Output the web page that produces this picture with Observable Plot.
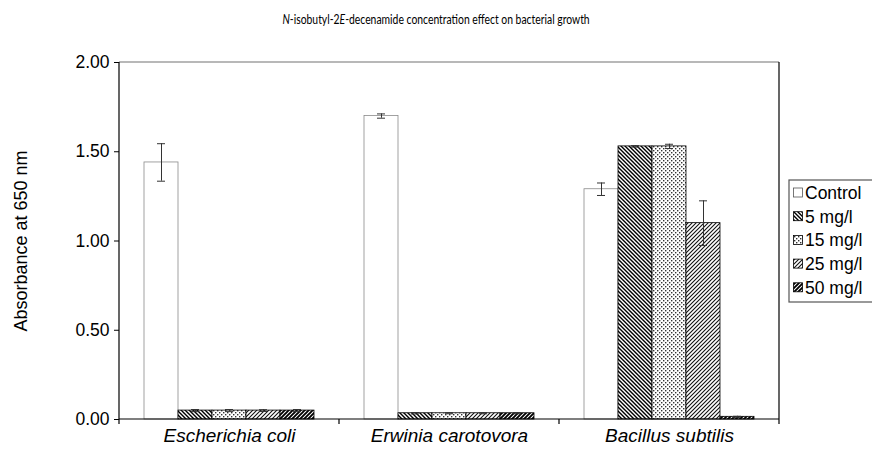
<!DOCTYPE html>
<html>
<head>
<meta charset="utf-8">
<script src="https://cdn.jsdelivr.net/npm/d3@7"></script>
<script src="https://cdn.jsdelivr.net/npm/@observablehq/plot@0.6"></script>
<style>
  html, body { margin: 0; padding: 0; background: #fff; }
  #wrap { position: relative; width: 872px; height: 454px; overflow: hidden; }
  #title { height: 34px; box-sizing: border-box; padding-top: 10px; text-align: center; }
  #title span { display: inline-block; transform: scaleX(0.83); transform-origin: center;
           font-family: Lato, "Open Sans", sans-serif; font-size: 12.5px; line-height: 16px; color: #000; white-space: nowrap; }
  svg { display: block; }
</style>
</head>
<body>
<svg width="0" height="0" style="position:absolute">
  <defs>
    <pattern id="pat5" patternUnits="userSpaceOnUse" width="4" height="4">
      <rect width="4" height="4" fill="#fff"/>
      <path d="M-1,-1 L5,5 M3,-1 L5,1 M-1,3 L1,5" stroke="#000" stroke-width="1.4"/>
    </pattern>
    <pattern id="pat15" patternUnits="userSpaceOnUse" width="4" height="4">
      <rect width="4" height="4" fill="#fff"/>
      <rect x="0" y="0" width="1.4" height="1.4" fill="#333"/>
      <rect x="2" y="2" width="1.4" height="1.4" fill="#333"/>
    </pattern>
    <pattern id="pat25" patternUnits="userSpaceOnUse" width="4" height="4">
      <rect width="4" height="4" fill="#fff"/>
      <path d="M-1,5 L5,-1 M-1,1 L1,-1 M3,5 L5,3" stroke="#111" stroke-width="1.1"/>
    </pattern>
    <pattern id="pat50" patternUnits="userSpaceOnUse" width="4" height="4">
      <rect width="4" height="4" fill="#fff"/>
      <path d="M-1,5 L5,-1 M-1,1 L1,-1 M3,5 L5,3" stroke="#000" stroke-width="1.9"/>
    </pattern>
  </defs>
</svg>
<div id="wrap">
  <div id="title"><span><i>N</i>-isobutyl-2<i>E</i>-decenamide concentration effect on bacterial growth</span></div>
  <div id="chart"></div>
</div>
<script>
const categories = ["Escherichia coli", "Erwinia carotovora", "Bacillus subtilis"];
const series = ["Control", "5 mg/l", "15 mg/l", "25 mg/l", "50 mg/l"];
const ecoliValues    = [1.44, 0.05, 0.05, 0.05, 0.05];
const erwiniaValues  = [1.70, 0.035, 0.035, 0.035, 0.035];
const bacillusValues = [1.29, 1.53, 1.53, 1.10, 0.015];
const ecoliErrors    = [0.105, 0.006, 0.006, 0.005, 0.006];
const erwiniaErrors  = [0.012, 0.004, 0.003, 0.003, 0.003];
const bacillusErrors = [0.035, 0.004, 0.012, 0.125, 0.003];
const yTicks = [0, 0.5, 1.0, 1.5, 2.0];
const yLabel = "Absorbance at 650 nm";

const fills = ["#fff", "url(#pat5)", "url(#pat15)", "url(#pat25)", "url(#pat50)"];
const valueSets = [ecoliValues, erwiniaValues, bacillusValues];
const errorSets = [ecoliErrors, erwiniaErrors, bacillusErrors];
const rows = [];
categories.forEach((c, i) => series.forEach((s, j) => rows.push({
  category: c, series: s, value: valueSets[i][j], err: errorSets[i][j]
})));

const font = "'Liberation Sans', Arial, sans-serif";

const plot = Plot.plot({
  width: 872, height: 420,
  marginLeft: 118, marginRight: 93, marginTop: 28, marginBottom: 35,
  style: { fontFamily: font, color: "#000", background: "#fff" },
  fx: { domain: categories, padding: 0, axis: null },
  x: { domain: series, paddingInner: 0, paddingOuter: 0.735, axis: null },
  y: { domain: [0, 2] },
  color: { domain: series, range: fills },
  marks: [
    Plot.barY(rows, { fx: "category", x: "series", y: "value", fill: "series",
      stroke: d => d.series === "Control" ? "#8a8a8a" : "#000", strokeWidth: 0.8 }),
    Plot.ruleX(rows, { fx: "category", x: "series", y1: d => d.value - d.err, y2: d => d.value + d.err,
      stroke: "#333", strokeWidth: 1 }),
    Plot.tickY(rows, { fx: "category", x: "series", y: d => d.value - d.err, stroke: "#333", insetLeft: 13, insetRight: 13 }),
    Plot.tickY(rows, { fx: "category", x: "series", y: d => d.value + d.err, stroke: "#333", insetLeft: 13, insetRight: 13 }),
    Plot.axisY({ ticks: yTicks, tickFormat: d3.format(".2f"), tickSize: 5, tickPadding: 5, label: null, fontSize: 17.5, stroke: "#000" }),
    Plot.axisFx({ anchor: "bottom", tickSize: 0, tickPadding: 9, label: null, fontSize: 19, fontStyle: "italic" }),
    Plot.text([yLabel], { fx: () => categories[0], text: d => d, frameAnchor: "left", textAnchor: "middle",
      dx: -98, rotate: -90, fontSize: 18 })
  ]
});

document.getElementById("chart").appendChild(plot);

// frame, boundary ticks and legend, placed with the plot's own scales
const svg = d3.select(plot);
const fxScale = plot.scale("fx");
const yScale = plot.scale("y");
const xLeft = fxScale.apply(categories[0]);
const xRight = fxScale.apply(categories[categories.length - 1]) + fxScale.bandwidth;
const yTop = yScale.apply(2), yBottom = yScale.apply(0);
const g = svg.append("g");
g.append("line").attr("x1", xLeft).attr("x2", xRight).attr("y1", yTop).attr("y2", yTop).attr("stroke", "#a0a0a0").attr("stroke-width", 1.3);
g.append("line").attr("x1", xRight).attr("x2", xRight).attr("y1", yTop).attr("y2", yBottom + 5).attr("stroke", "#000").attr("stroke-width", 1.2);
g.append("line").attr("x1", xLeft).attr("x2", xLeft).attr("y1", yTop).attr("y2", yBottom).attr("stroke", "#000").attr("stroke-width", 1.2);
g.append("line").attr("x1", xLeft).attr("x2", xRight).attr("y1", yBottom).attr("y2", yBottom).attr("stroke", "#000").attr("stroke-width", 1.2);
categories.forEach(c => {
  const x0 = fxScale.apply(c);
  g.append("line").attr("x1", x0).attr("x2", x0).attr("y1", yBottom).attr("y2", yBottom + 5).attr("stroke", "#000").attr("stroke-width", 1.2);
});

const colorScale = plot.scale("color");
const lg = svg.append("g").attr("font-family", font).attr("font-size", 17.5).attr("text-anchor", "start");
lg.append("rect").attr("x", xRight + 10).attr("y", 146).attr("width", 120).attr("height", 122)
  .attr("fill", "#fff").attr("stroke", "#555").attr("stroke-width", 1.2);
series.forEach((s, i) => {
  const cy = 158.5 + i * 23.7;
  lg.append("rect").attr("x", xRight + 14.5).attr("y", cy - 4.5).attr("width", 9).attr("height", 9)
    .attr("fill", colorScale.apply(s)).attr("stroke", s === "Control" ? "#555" : "#000").attr("stroke-width", 0.8);
  lg.append("text").attr("x", xRight + 26).attr("y", cy).attr("dy", "0.36em").text(s);
});
</script>
</body>
</html>
